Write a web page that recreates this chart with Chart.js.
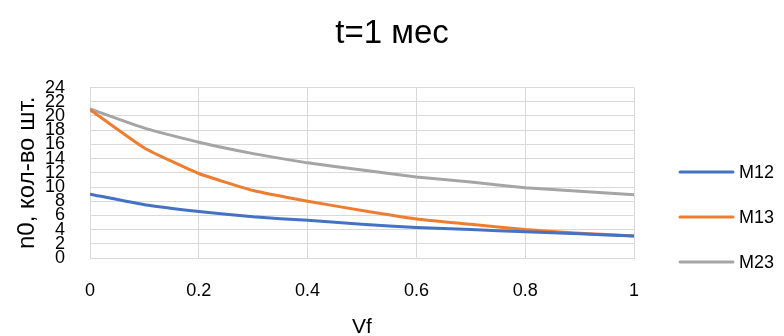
<!DOCTYPE html>
<html>
<head>
<meta charset="utf-8">
<script src="https://cdn.jsdelivr.net/npm/chart.js@4/dist/chart.umd.min.js"></script>
<style>
  html, body { margin: 0; padding: 0; background: #fff; overflow: hidden; }
  #wrap { width: 784px; height: 336px; }
</style>
</head>
<body>
<div id="wrap"><canvas id="chart"></canvas></div>
<script>
// values
const vf = [0, 0.1, 0.2, 0.3, 0.4, 0.5, 0.6, 0.7, 0.8, 0.9, 1.0];
const m12 = [9.0, 7.5, 6.55, 5.8, 5.3, 4.75, 4.3, 4.0, 3.7, 3.4, 3.1];
const m13 = [20.9, 15.5, 11.9, 9.5, 8.0, 6.7, 5.5, 4.75, 4.0, 3.5, 3.1];
const m23 = [21.0, 18.3, 16.3, 14.7, 13.4, 12.4, 11.4, 10.7, 9.9, 9.4, 8.9];
const seriesNames = ["M12", "M13", "M23"];
const seriesColors = ["#4472C4", "#ED7D31", "#A5A5A5"];

const font = "'Liberation Sans', Arial, sans-serif";

function toPoints(values) {
    var pts = [];
    for (let i = 0; i < vf.length; i++) {
        pts.push({ x: vf[i], y: values[i] });
    }
    return pts;
}

const allValues = [m12, m13, m23];
var datasets = [];
for (let i = 0; i < allValues.length; i++) {
    datasets.push({
        label: seriesNames[i],
        data: toPoints(allValues[i]),
        borderColor: seriesColors[i],
        backgroundColor: seriesColors[i],
        borderWidth: 3,
        pointRadius: 0,
        tension: 0.15,
        fill: false,
    });
}

// legend drawn by hand so it can sit where Excel put it (text runs off the edge)
const sideLegend = {
    id: "sideLegend",
    afterDraw(chart) {
        const c = chart.ctx;
        const x0 = chart.chartArea.right + 46;
        const y0 = 172;
        const step = 45;
        c.save();
        c.font = "18px " + font;
        c.textBaseline = "middle";
        chart.data.datasets.forEach(function (ds, i) {
            const y = y0 + i * step;
            c.strokeStyle = ds.borderColor;
            c.lineWidth = 3;
            c.lineCap = "round";
            c.beginPath();
            c.moveTo(x0, y);
            c.lineTo(x0 + 53, y);
            c.stroke();
            c.fillStyle = "#000";
            c.fillText(ds.label, x0 + 59, y + 1);
        });
        c.restore();
    },
};

const ctx = document.getElementById("chart");
new Chart(ctx, {
    type: "line",
    data: { datasets: datasets },
    plugins: [sideLegend],
    options: {
        responsive: true,
        maintainAspectRatio: false,
        animation: false,
        layout: { padding: 0 },
        plugins: {
            title: {
                display: true,
                text: "t=1 мес",
                color: "#000",
                font: { family: font, size: 33, weight: "normal" },
                padding: { top: 14, bottom: 34 },
            },
            legend: { display: false },
            tooltip: { enabled: false },
        },
        scales: {
            x: {
                type: "linear",
                min: 0,
                max: 1,
                afterFit: (scale) => { scale.height = 78; },
                ticks: {
                    stepSize: 0.2,
                    color: "#000",
                    font: { family: font, size: 18 },
                    padding: 22,
                    callback: (v) => String(Math.round(v * 10) / 10),
                },
                grid: { color: "#d9d9d9", drawTicks: false },
                border: { color: "#d9d9d9" },
                title: {
                    display: true,
                    text: "Vf",
                    color: "#000",
                    font: { family: font, size: 21 },
                    padding: { top: 0, bottom: -4 },
                },
            },
            y: {
                min: 0,
                max: 24,
                afterFit: (scale) => { scale.width = 90; },
                ticks: {
                    stepSize: 2,
                    autoSkip: false,
                    color: "#000",
                    font: { family: font, size: 18 },
                    padding: 25,
                },
                grid: { color: "#d9d9d9", drawTicks: false },
                border: { display: false },
                title: {
                    display: true,
                    text: "n0, кол-во шт.",
                    color: "#000",
                    font: { family: font, size: 24 },
                    padding: { top: 13, bottom: 0 },
                },
            },
            // empty axis that only reserves the room on the right for the legend
            side: {
                position: "right",
                display: true,
                afterFit: (scale) => { scale.width = 150; },
                ticks: { display: false },
                grid: { drawOnChartArea: false, drawTicks: false },
                border: { display: false },
            },
        },
    },
});
</script>
</body>
</html>
